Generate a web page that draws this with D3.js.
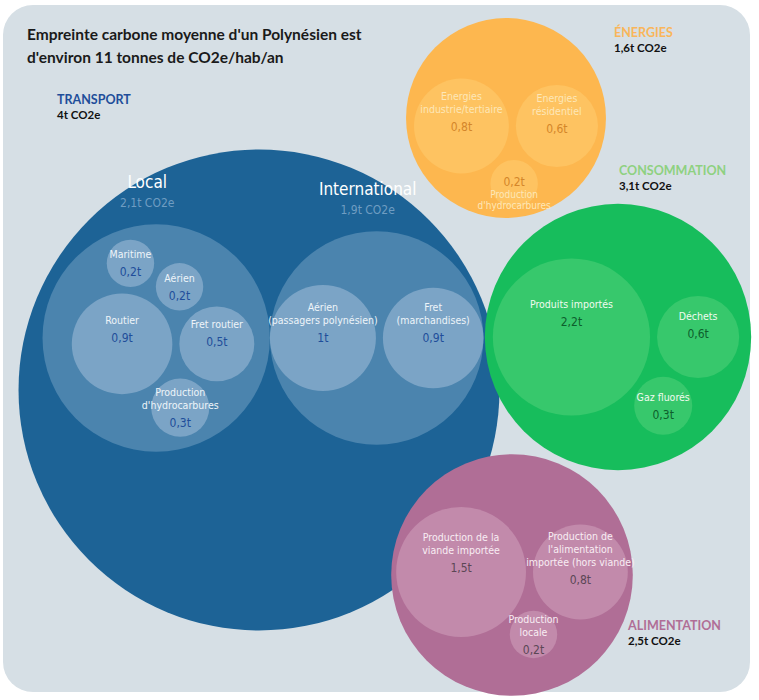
<!DOCTYPE html>
<html>
<head>
<meta charset="utf-8">
<script src="https://cdn.jsdelivr.net/npm/d3@7"></script>
<style>
  body { margin: 0; background: #fff; }
</style>
</head>
<body>
<div id="chart"></div>
<script>
const title = ["Empreinte carbone moyenne d'un Polynésien est", "d'environ 11 tonnes de CO2e/hab/an"];

const groups = ["TRANSPORT", "ÉNERGIES", "CONSOMMATION", "ALIMENTATION"];
const subGroups = ["Local", "International"];

const localNames = ["Aérien", "Maritime", "Routier", "Fret routier", "Production\nd'hydrocarbures"];
const localValues = [0.2, 0.2, 0.9, 0.5, 0.3];

const intlNames = ["Aérien\n(passagers polynésien)", "Fret\n(marchandises)"];
const intlValues = [1, 0.9];

const energyNames = ["Energies\nindustrie/tertiaire", "Energies\nrésidentiel", "Production\nd'hydrocarbures"];
const energyValues = [0.8, 0.6, 0.2];

const consoNames = ["Produits importés", "Déchets", "Gaz fluorés"];
const consoValues = [2.2, 0.6, 0.3];

const foodNames = ["Production de la\nviande importée", "Production de\nl'alimentation\nimportée (hors viande)", "Production\nlocale"];
const foodValues = [1.5, 0.8, 0.2];

const width = 759, height = 700;

// where each group sits on the page (hand-arranged infographic)
const frames = [
  { cx: 259, cy: 390, dx: 4, dy: -52, ring: 20, subRing: [11, 0], labelX: 57, labelY: 104 },
  { cx: 506, cy: 118, dx: 0, dy: 8, ring: 8, labelX: 614, labelY: 37, valueFirst: true },
  { cx: 618, cy: 337, dx: -2, dy: 0, ring: 10, labelX: 619, labelY: 175 },
  { cx: 512, cy: 575, dx: 0, dy: -3, ring: 5, labelX: 628, labelY: 630 }
];

const palette = [
  { fill: ["#1d6396", "#4b84ae", "#7ba4c6"], head: "#1f4e9a", name: "#eef4f9", value: "#1f4e9a" },
  { fill: ["#fdb74f", "#fdb74f", "#fec361"], head: "#f9b65a", name: "#fde7b8", value: "#d4862a" },
  { fill: ["#17bd5c", "#17bd5c", "#37c86c"], head: "#8ed180", name: "#f0fbef", value: "#0d5f2c" },
  { fill: ["#b06e96", "#b06e96", "#c28aab"], head: "#b06e96", name: "#f8edf3", value: "#5b4755" }
];

const leaves = (names, values) => names.map((n, i) => ({ name: n, value: values[i] }));

const groupData = [
  { name: groups[0], children: [
      { name: subGroups[0], children: leaves(localNames, localValues) },
      { name: subGroups[1], children: leaves(intlNames, intlValues) }
  ] },
  { name: groups[1], children: leaves(energyNames, energyValues) },
  { name: groups[2], children: leaves(consoNames, consoValues) },
  { name: groups[3], children: leaves(foodNames, foodValues) }
];

const rScale = d3.scaleSqrt().domain([0, 1]).range([0, 53]);
const fmt = v => d3.format(".2~f")(v).replace(".", ",");

const narrow = "'Liberation Sans Narrow', 'DejaVu Sans Condensed', 'Roboto', sans-serif";
const bold = "Lato, 'Open Sans', sans-serif";

const svg = d3.select("#chart")
  .append("svg")
  .attr("width", width)
  .attr("height", height);

svg.append("rect")
  .attr("x", 3).attr("y", 5)
  .attr("width", 747).attr("height", 687)
  .attr("rx", 30)
  .attr("fill", "#d6dfe5");

svg.append("text")
  .attr("x", 27).attr("y", 40)
  .attr("font-family", bold).attr("font-weight", 700)
  .attr("font-size", 15.5).attr("fill", "#1a1a1a")
  .selectAll("tspan")
  .data(title)
  .join("tspan")
    .attr("x", 27)
    .attr("dy", (d, i) => i ? 23 : 0)
    .text(d => d);

function packNode(node, f) {
  if (!node.children) { node.r = rScale(node.value); return; }
  node.children.forEach(c => packNode(c, f));
  const gap = node.children[0].children ? 0 : 7;
  node.children.forEach(c => c.r += gap / 2);
  d3.packSiblings(node.children);
  const e = d3.packEnclose(node.children);
  node.children.forEach(c => { c.r -= gap / 2; c.x -= e.x; c.y -= e.y; });
  const ring = node.depth === 0 ? f.ring : f.subRing[node.parent.children.indexOf(node)];
  node.r = e.r - gap / 2 + ring;
}

groupData.forEach((gd, gi) => {
  const f = frames[gi], pal = palette[gi];
  const root = d3.hierarchy(gd)
    .sum(d => d.value || 0)
    .sort((a, b) => b.value - a.value);

  packNode(root, f);

  root.eachBefore(n => {
    if (!n.parent) { n.ax = f.cx; n.ay = f.cy; return; }
    const shift = n.depth === 1;
    n.ax = n.parent.ax + n.x + (shift ? f.dx : 0);
    n.ay = n.parent.ay + n.y + (shift ? f.dy : 0);
  });

  const g = svg.append("g");

  g.selectAll("circle")
    .data(root.descendants())
    .join("circle")
      .attr("cx", d => d.ax)
      .attr("cy", d => d.ay)
      .attr("r", d => d.r)
      .attr("fill", d => d.children ? (d.depth === 0 ? pal.fill[0] : pal.fill[1]) : pal.fill[2]);

  // group heading
  const head = g.append("g");
  head.append("text")
    .attr("x", f.labelX).attr("y", f.labelY)
    .attr("font-family", bold).attr("font-weight", 700)
    .attr("font-size", 12.5).attr("fill", pal.head)
    .text(gd.name);
  head.append("text")
    .attr("x", f.labelX).attr("y", f.labelY + 15)
    .attr("font-family", bold).attr("font-weight", 700)
    .attr("font-size", 11.5).attr("fill", "#111")
    .text(fmt(root.value) + "t CO2e");

  // sub-group labels (Local / International)
  const subs = root.descendants().filter(d => d.depth === 1 && d.children);
  g.selectAll(".subname")
    .data(subs)
    .join("text")
      .attr("class", "subname")
      .attr("x", d => d.ax - 9)
      .attr("y", d => d.ay - d.r - 36)
      .attr("text-anchor", "middle")
      .attr("font-family", narrow).attr("font-size", 17)
      .attr("fill", "#ffffff")
      .text(d => d.data.name);
  g.selectAll(".subval")
    .data(subs)
    .join("text")
      .attr("class", "subval")
      .attr("x", d => d.ax - 9)
      .attr("y", d => d.ay - d.r - 17)
      .attr("text-anchor", "middle")
      .attr("font-family", narrow).attr("font-size", 12)
      .attr("fill", "#6f9dc2")
      .text(d => fmt(d.value) + "t CO2e");

  // leaf labels
  root.leaves().forEach(d => {
    const lines = d.data.name.split("\n");
    const t = g.append("g").attr("font-family", narrow).attr("text-anchor", "middle");
    if (f.valueFirst && d.r < 25) {
      t.append("text").attr("x", d.ax).attr("y", d.ay + 2)
        .attr("font-size", 12).attr("fill", pal.value).text(fmt(d.value) + "t");
      lines.forEach((l, i) => t.append("text")
        .attr("x", d.ax).attr("y", d.ay + 14 + i * 11)
        .attr("font-size", 10).attr("fill", pal.name).text(l));
      return;
    }
    const lh = 13, vgap = 18;
    const blockH = (lines.length - 1) * lh + vgap;
    const center = d.ay + (d.r > 35 ? -0.3 * d.r : 0);
    const y0 = center - blockH / 2 + 4;
    lines.forEach((l, i) => t.append("text")
      .attr("x", d.ax).attr("y", y0 + i * lh)
      .attr("font-size", 10.5).attr("fill", pal.name).text(l));
    t.append("text")
      .attr("x", d.ax).attr("y", y0 + (lines.length - 1) * lh + vgap)
      .attr("font-size", 12).attr("fill", pal.value)
      .text(fmt(d.value) + "t");
  });
});
</script>
</body>
</html>
